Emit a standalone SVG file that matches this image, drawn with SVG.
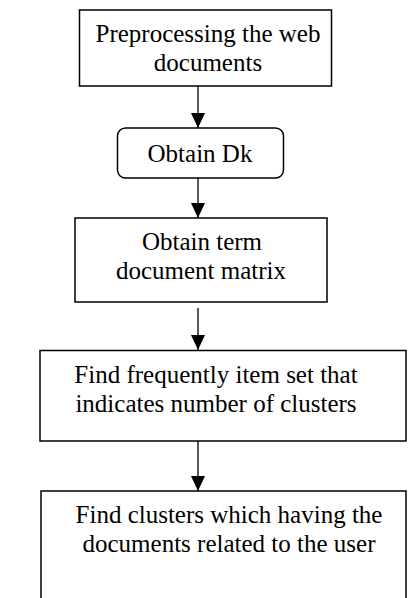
<svg xmlns="http://www.w3.org/2000/svg" width="409" height="598" viewBox="0 0 409 598">
<style>
.box{fill:#fff;stroke:#000;stroke-width:1.5}
.t{font-family:"Liberation Serif","Times New Roman",serif;font-size:25px;fill:#000;text-anchor:middle}
.c{stroke:#000;stroke-width:1.3;fill:none;marker-end:url(#ah)}
</style>
<defs>
<marker id="ah" markerUnits="userSpaceOnUse" markerWidth="15" markerHeight="14" refX="15" refY="7" orient="auto">
<path d="M0,0 L15,7 L0,14 z" fill="#000"/>
</marker>
</defs>
<rect width="409" height="598" fill="#fff"/>
<g id="connectors">
<line class="c" x1="198" y1="86" x2="198" y2="128"/>
<line class="c" x1="198" y1="178" x2="198" y2="218"/>
<line class="c" x1="198" y1="308" x2="198" y2="350"/>
<line class="c" x1="198" y1="441" x2="198" y2="491"/>
</g>
<g id="n1">
<rect class="box" x="79.5" y="10" width="252" height="76"/>
<text class="t" x="208" y="42">Preprocessing the web</text>
<text class="t" x="208" y="71">documents</text>
</g>
<g id="n2">
<rect class="box" x="117.5" y="128" width="166" height="50" rx="8"/>
<text class="t" x="200" y="162">Obtain Dk</text>
</g>
<g id="n3">
<rect class="box" x="75" y="218" width="252" height="84"/>
<text class="t" x="202" y="250">Obtain term</text>
<text class="t" x="201" y="279">document matrix</text>
</g>
<g id="n4">
<rect class="box" x="40" y="350.5" width="366" height="90.5"/>
<text class="t" x="216" y="383">Find frequently item set that</text>
<text class="t" x="216" y="412">indicates number of clusters</text>
</g>
<g id="n5">
<rect class="box" x="41" y="491" width="365" height="120"/>
<text class="t" x="229" y="523">Find clusters which having the</text>
<text class="t" x="229" y="552">documents related to the user</text>
</g>
</svg>
